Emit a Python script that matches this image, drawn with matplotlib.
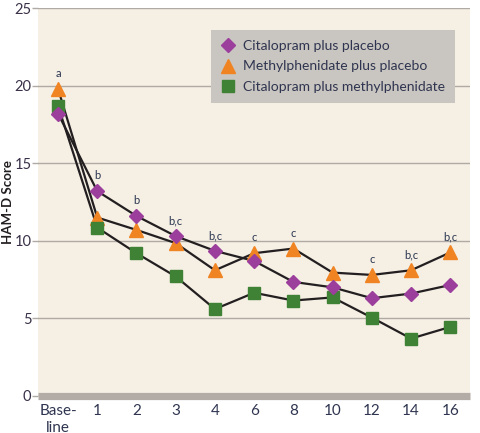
import matplotlib
matplotlib.use("Agg")
import matplotlib.pyplot as plt
import numpy as np

# weeks on the x axis
weeks = ["Base-\nline", "1", "2", "3", "4", "6", "8", "10", "12", "14", "16"]

# HAM-D scores
citalopram_placebo = [18.2, 13.2, 11.6, 10.3, 9.35, 8.7, 7.35, 7.0, 6.3, 6.6, 7.15]
methylphenidate_placebo = [19.8, 11.5, 10.7, 9.85, 8.1, 9.2, 9.5, 7.95, 7.8, 8.1, 9.25]
citalopram_methylphenidate = [18.7, 10.85, 9.2, 7.7, 5.6, 6.65, 6.15, 6.35, 5.05, 3.7, 4.45]

# significance letters above each time point
sig_labels = ["a", "b", "b", "b,c", "b,c", "c", "c", "", "c", "b,c", "b,c"]

plt.rcParams["font.family"] = ["Lato", "DejaVu Sans"]

fig = plt.figure(figsize=(4.8, 4.33), dpi=100)
ax = fig.add_axes([0.080, 0.0855, 0.899, 0.896])
ax.set_facecolor("#f5efe4")

x = np.arange(len(weeks))
line_kw = dict(color="#231f20", linewidth=1.6, zorder=2)
ax.plot(x, methylphenidate_placebo, **line_kw)
ax.plot(x, citalopram_methylphenidate, **line_kw)
ax.plot(x, citalopram_placebo, **line_kw)

ax.plot(x, methylphenidate_placebo, linestyle="none", marker="^", markersize=9.5,
        color="#f08423", label="Methylphenidate plus placebo", zorder=3)
ax.plot(x, citalopram_methylphenidate, linestyle="none", marker="s", markersize=8.3,
        color="#3f8135", label="Citalopram plus methylphenidate", zorder=4)
ax.plot(x, citalopram_placebo, linestyle="none", marker="D", markersize=7.6,
        color="#9c3f9c", label="Citalopram plus placebo", zorder=5)

# significance markers above highest point
tops = np.max([citalopram_placebo, methylphenidate_placebo, citalopram_methylphenidate], axis=0)
for xi, top, lab in zip(x, tops, sig_labels):
    if lab:
        ax.annotate(lab, (xi, top), xytext=(0, 11), textcoords="offset points",
                    ha="center", va="center", fontsize=8, color="#2a3550")

ax.set_xlim(-0.5, 10.5)
ax.set_ylim(0, 25)
ax.set_yticks([0, 5, 10, 15, 20, 25])
ax.set_xticks(x)
ax.set_xticklabels(weeks)
ax.grid(True, axis="y", color="#b0aaa4", linewidth=1.0, zorder=1)
ax.set_axisbelow(True)

for side in ["top", "left", "right"]:
    ax.spines[side].set_visible(False)
ax.spines["bottom"].set_color("#b3aca6")
ax.spines["bottom"].set_linewidth(5.2)
ax.spines["bottom"].set_capstyle("butt")

ax.tick_params(axis="y", length=4, width=1, color="#b0aaa4", pad=1,
               labelsize=10.5, labelcolor="#3a3148")
ax.tick_params(axis="x", length=0, pad=6, labelsize=11, labelcolor="#2f3550")
ax.set_ylabel("HAM-D Score", fontsize=9.5, fontweight="bold", color="#231f20")
ax.yaxis.set_label_coords(-0.056, 0.5)

handles, labels = ax.get_legend_handles_labels()
order = [2, 0, 1]
leg = ax.legend([handles[i] for i in order], [labels[i] for i in order],
                loc="upper right", bbox_to_anchor=(0.9655, 0.943), borderaxespad=0,
                fontsize=10, frameon=True, fancybox=False, facecolor="#c9c5c0",
                edgecolor="none", framealpha=1, handlelength=1.0, handletextpad=0.6,
                borderpad=0.7, labelspacing=0.62)
for t in leg.get_texts():
    t.set_color("#2f3550")

fig.savefig("out.png", dpi=100)
